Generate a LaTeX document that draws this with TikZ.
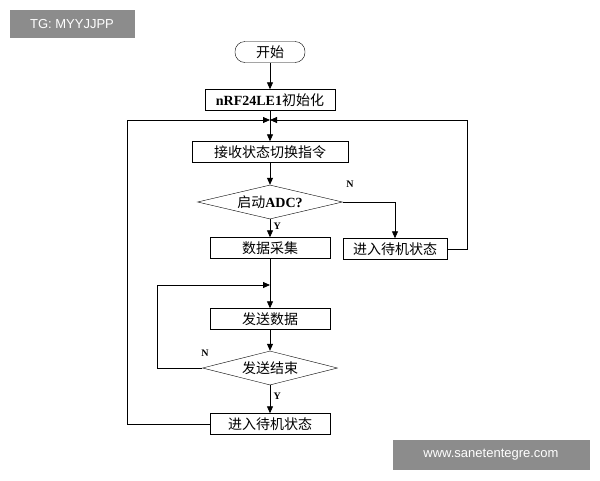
\documentclass[tikz,border=0pt]{standalone}
\usepackage{fontspec}
\setmainfont{Liberation Serif}
\newfontfamily\cjk{Noto Sans CJK SC}
\newfontfamily\wm{Liberation Sans}
\usetikzlibrary{shapes.geometric,arrows.meta}
\begin{document}
\begin{tikzpicture}[x=1pt,y=-1pt,
  every node/.style={font=\fontsize{14}{16}\selectfont},
  box/.style={draw,minimum height=21pt,inner sep=0pt},
  dia/.style={draw,diamond,aspect=4.2,inner sep=0pt},
  ar/.style={-{Triangle[length=7pt,width=6pt]},line width=0.8pt},
  ln/.style={line width=0.8pt},
  lab/.style={font=\fontsize{10}{12}\selectfont\bfseries}]
\useasboundingbox (0,0) rectangle (600,480);
\node[fill=black!45,minimum width=125pt,minimum height=28pt,text=white,font=\wm\fontsize{13}{15}\selectfont] (wm1) at (72,24) {TG: MYYJJPP};
\node[fill=black!45,minimum width=197pt,minimum height=30pt,text=white,font=\wm\fontsize{13}{15}\selectfont] (wm2) at (491,455) {www.sanetentegre.com};
\node[draw,rounded corners=10pt,minimum width=70pt,minimum height=21pt,inner sep=0pt] (s) at (270,52) {\cjk 开始};
\node[box,minimum width=130pt] (init) at (270,100) {\textbf{nRF24LE1}{\cjk 初始化}};
\node[box,minimum width=156pt] (rx) at (270,152) {\cjk 接收状态切换指令};
\node[dia,minimum width=145pt,minimum height=34pt] (d1) at (270,202) {{\cjk 启动}\textbf{ADC?}};
\node[box,minimum width=120pt] (acq) at (270,248) {\cjk 数据采集};
\node[box,minimum width=104pt] (sb1) at (395,249) {\cjk 进入待机状态};
\node[box,minimum width=120pt] (send) at (270,319) {\cjk 发送数据};
\node[dia,minimum width=135pt,minimum height=34pt] (d2) at (270,368) {\cjk 发送结束};
\node[box,minimum width=120pt] (sb2) at (270,424) {\cjk 进入待机状态};
\coordinate (j1) at (270,120);
\coordinate (j2) at (270,285);
\draw[ar] (s) -- (init);
\draw[ln] (init) -- (j1);
\draw[ar] (j1) -- (rx);
\draw[ar] (rx) -- (d1);
\draw[ar] (d1) -- node[lab,right,pos=0.4]{Y} (acq);
\draw[ar] (d1.east) -| (sb1.north);
\node[lab] (n1) at (350,184) {N};
\draw[ar] (sb1.east) -- ++(20,0) |- (j1);
\draw[ar] (sb2.west) -- ++(-82,0) |- (j1);
\draw[ln] (acq) -- (j2);
\draw[ar] (j2) -- (send);
\draw[ar] (send) -- (d2);
\draw[ar] (d2.west) -- ++(-45,0) |- (j2);
\node[lab] (n2) at (205,353) {N};
\draw[ar] (d2) -- node[lab,right,pos=0.4]{Y} (sb2);
\end{tikzpicture}
\end{document}
